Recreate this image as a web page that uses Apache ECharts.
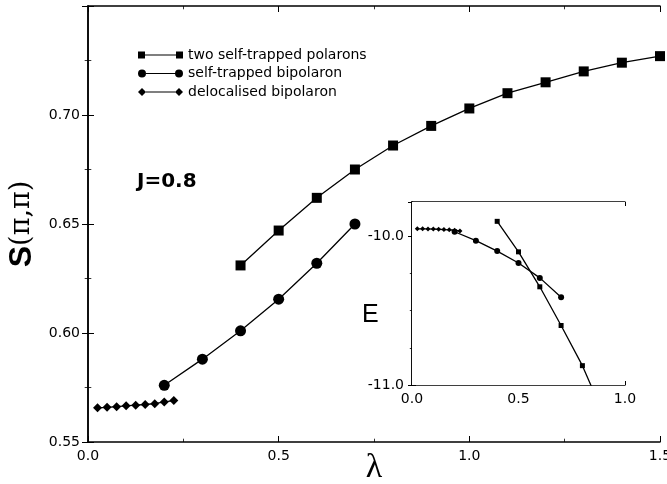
<!DOCTYPE html>
<html>
<head>
<meta charset="utf-8">
<script src="https://cdn.jsdelivr.net/npm/echarts@6/dist/echarts.min.js"></script>
<style>html,body{margin:0;padding:0;background:#fff;}#c{width:667px;height:484px;}</style>
</head>
<body>
<div id="c"></div>
<script>
// ---- main plot data: S(pi,pi) vs lambda ----
const polLambda = [0.4,0.5,0.6,0.7,0.8,0.9,1.0,1.1,1.2,1.3,1.4,1.5];
const polS      = [0.631,0.647,0.662,0.675,0.686,0.695,0.703,0.710,0.715,0.720,0.724,0.727];
const bipLambda = [0.2,0.3,0.4,0.5,0.6,0.7];
const bipS      = [0.576,0.588,0.601,0.6155,0.632,0.650];
const delLambda = [0.025,0.05,0.075,0.1,0.125,0.15,0.175,0.2,0.225];
const delS      = [0.5657,0.5659,0.5662,0.5666,0.5669,0.5672,0.5676,0.5684,0.5690];
// ---- inset data: E vs lambda ----
const polInsetLambda = [0.4,0.5,0.6,0.7,0.8,0.9];
const polE           = [-9.90,-10.105,-10.34,-10.60,-10.87,-11.2];
const bipInsetLambda = [0.2,0.3,0.4,0.5,0.6,0.7];
const bipE           = [-9.97,-10.03,-10.10,-10.18,-10.28,-10.41];
const delInsetLambda = [0.025,0.05,0.075,0.1,0.125,0.15,0.175,0.2,0.225];
const delE           = [-9.95,-9.95,-9.951,-9.952,-9.953,-9.955,-9.957,-9.96,-9.965];
// ---- ticks / labels ----
const mainXTicks = [0.0,0.5,1.0,1.5];
const mainYTicks = [0.55,0.60,0.65,0.70];
const insetXTicks = [0.0,0.5,1.0];
const insetYTicks = [-11.0,-10.0];
const seriesNames = ['two self-trapped polarons','self-trapped bipolaron','delocalised bipolaron'];

const zip = (a,b) => a.map((v,i)=>[v,b[i]]);
const near = (v,list) => list.some(t=>Math.abs(t-v)<1e-6);
const lblFont = {fontFamily:'DejaVu Sans', fontSize:14, color:'#000'};

function frameAxis(type, pos, min, max, interval, minorSplit, showLabel, fmtList, digits, tickLen){
  return {
    type:'value', position:pos, min, max, interval,
    axisLine:{show:true, lineStyle:{color:'#000', width:1.5}},
    axisTick:{show:true, inside:true, length:tickLen, lineStyle:{color:'#000', width:1}},
    minorTick:{show:true, splitNumber:minorSplit, length:tickLen*0.55, lineStyle:{color:'#000', width:0.8}},
    splitLine:{show:false}, minorSplitLine:{show:false},
    axisLabel:{show:showLabel, margin: type==='x'?7:8, ...lblFont,
      showMinLabel:true, showMaxLabel:true, hideOverlap:false,
      formatter:(v)=> near(v,fmtList) ? v.toFixed(digits) : ''}
  };
}

const mx = frameAxis('x','bottom',0,1.5,0.5,2,true,mainXTicks,1,6);
mx.name = 'λ'; mx.nameLocation='middle'; mx.nameGap=9; mx.nameMoveOverlap=false;
mx.nameTextStyle = {fontFamily:'Liberation Serif', fontSize:34, color:'#000', lineHeight:34};
const mxTop = frameAxis('x','top',0,1.5,0.5,2,false,mainXTicks,1,6);
const my = frameAxis('y','left',0.55,0.75,0.05,2,true,mainYTicks,2,6);
my.name = '{a|S}{b|(π,π)}'; my.nameLocation='middle'; my.nameGap=50; my.nameRotate=90; my.nameMoveOverlap=false;
my.nameTextStyle = {rich:{a:{fontFamily:'Liberation Sans', fontWeight:'bold', fontSize:32, color:'#000'},
                          b:{fontFamily:'DejaVu Serif', fontSize:27, color:'#000'}}};
const myRight = frameAxis('y','right',0.55,0.75,0.05,2,false,mainYTicks,2,6);

const ix = frameAxis('x','bottom',0,1.0,0.5,5,true,insetXTicks,1,4);
const ixTop = frameAxis('x','top',0,1.0,0.5,5,false,insetXTicks,1,4);
const iy = frameAxis('y','left',-11,-9.77,1,4,true,insetYTicks,1,4);
const iyRight = frameAxis('y','right',-11,-9.77,1,4,false,insetYTicks,1,4);

const lineStyle = {color:'#000', width:1.3};
const itemStyle = {color:'#000'};
function ser(name, data, symbol, size, xi, yi){
  return {name, type:'line', data, xAxisIndex:xi, yAxisIndex:yi, symbol, symbolSize:size,
    showSymbol:true, lineStyle, itemStyle, clip:true, animation:false, z: 5,
    emphasis:{disabled:true}};
}

const iconSq = 'path://M0,0.5H7V7.5H0Z M7,3.4H38V4.6H7Z M38,0.5H45V7.5H38Z';
const iconCi = 'path://M0,4A4,4 0 1,0 8,4A4,4 0 1,0 0,4Z M8,3.4H37V4.6H8Z M37,4A4,4 0 1,0 45,4A4,4 0 1,0 37,4Z';
const iconDi = 'path://M0,4L4,0L8,4L4,8Z M8,3.5H37V4.5H8Z M37,4L41,0L45,4L41,8Z';

const chart = echarts.init(document.getElementById('c'), null, {renderer:'canvas'});
chart.setOption({
  backgroundColor:'#fff',
  animation:false,
  grid:[
    {left:88, right:7, top:6, bottom:42, show:false, containLabel:false, outerBoundsMode:'none'},
    {left:412, width:213, top:202, height:183, show:true, backgroundColor:'#fff', borderWidth:0, z:3, containLabel:false, outerBoundsMode:'none'}
  ],
  xAxis:[mx, mxTop, ix, ixTop].map((a,i)=>Object.assign(a,{gridIndex: i<2?0:1})),
  yAxis:[my, myRight, iy, iyRight].map((a,i)=>Object.assign(a,{gridIndex: i<2?0:1})),
  legend:{
    orient:'vertical', left:133, top:43, itemWidth:45, itemHeight:8, itemGap:4.5,
    selectedMode:false,
    textStyle:{fontFamily:'DejaVu Sans', fontSize:14, color:'#000'},
    data:[{name:seriesNames[0], icon:iconSq},{name:seriesNames[1], icon:iconCi},{name:seriesNames[2], icon:iconDi}]
  },
  series:[
    ser(seriesNames[0], zip(polLambda,polS), 'rect', 10, 0, 0),
    ser(seriesNames[1], zip(bipLambda,bipS), 'circle', 11, 0, 0),
    ser(seriesNames[2], zip(delLambda,delS), 'diamond', 9, 0, 0),
    ser(seriesNames[0], zip(polInsetLambda,polE), 'rect', 5, 2, 2),
    ser(seriesNames[1], zip(bipInsetLambda,bipE), 'circle', 6, 2, 2),
    ser(seriesNames[2], zip(delInsetLambda,delE), 'diamond', 5, 2, 2)
  ],
  graphic:[
    {type:'text', left:137, top:172, z:10, style:{text:'J=0.8', fontFamily:'DejaVu Sans', fontWeight:'bold', fontSize:20, fill:'#000'}},
    {type:'text', left:362, top:303, z:10, style:{text:'E', fontFamily:'Liberation Sans', fontSize:25, fill:'#000'}}
  ]
});
</script>
</body>
</html>
